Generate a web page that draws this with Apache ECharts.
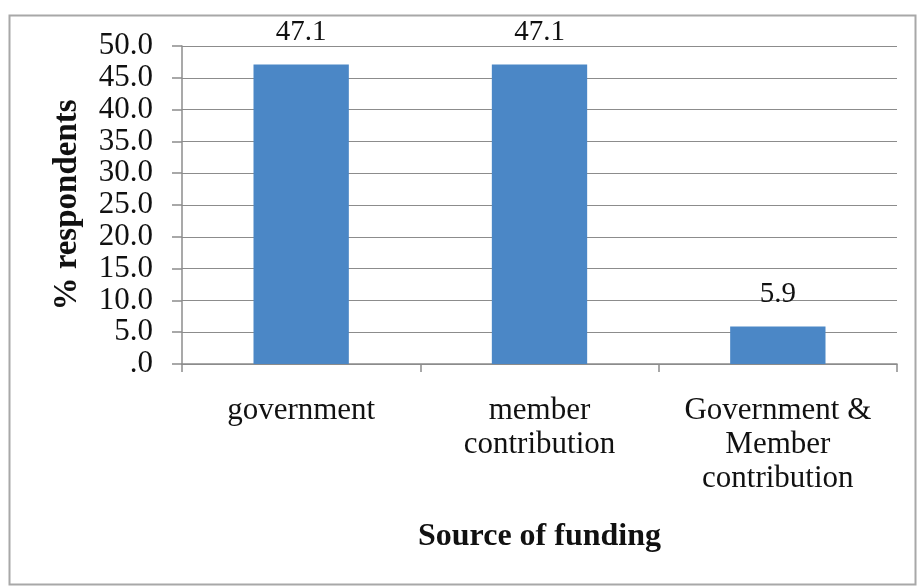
<!DOCTYPE html>
<html>
<head>
<meta charset="utf-8">
<script src="https://cdn.jsdelivr.net/npm/echarts@6/dist/echarts.min.js"></script>
<style>
  html, body { margin: 0; padding: 0; background: #ffffff; }
  #chart { width: 922px; height: 586px; }
</style>
</head>
<body>
<div id="chart"></div>
<script>
// Source of funding survey results
const categories = ['government', 'member\ncontribution', 'Government &\nMember\ncontribution'];
const percentValues = [47.1, 47.1, 5.9];
const yTickLabels = ['.0', '5.0', '10.0', '15.0', '20.0', '25.0', '30.0', '35.0', '40.0', '45.0', '50.0'];

const FONT = '"Liberation Serif", "Times New Roman", serif';
const chart = echarts.init(document.getElementById('chart'));

chart.setOption({
  backgroundColor: '#ffffff',
  animation: false,
  graphic: [{
    type: 'rect',
    left: 7, top: 13,
    shape: { width: 906, height: 569 },
    style: { fill: 'none', stroke: '#a8a8a8', lineWidth: 2 },
    silent: true
  }],
  grid: { left: 182, right: 25, top: 46, bottom: 222 },
  xAxis: {
    type: 'category',
    data: categories,
    name: 'Source of funding',
    nameLocation: 'middle',
    nameGap: 157,
    nameTextStyle: { fontFamily: FONT, fontSize: 32, fontWeight: 'bold', color: '#111' },
    axisLine: { show: true, lineStyle: { color: '#8c8c8c', width: 1.5 } },
    axisTick: { show: true, alignWithLabel: false, length: 8, lineStyle: { color: '#8c8c8c', width: 1.5 } },
    axisLabel: {
      fontFamily: FONT, fontSize: 31, color: '#111',
      lineHeight: 34, margin: 30, interval: 0
    }
  },
  yAxis: {
    type: 'value',
    min: 0, max: 50, interval: 5,
    name: '% respondents',
    nameLocation: 'middle',
    nameGap: 98,
    nameRotate: 90,
    nameTextStyle: { fontFamily: FONT, fontSize: 33, fontWeight: 'bold', color: '#111' },
    axisLine: { show: true, lineStyle: { color: '#8c8c8c', width: 1.5 } },
    axisTick: { show: true, inside: false, length: 10, lineStyle: { color: '#8c8c8c', width: 1.5 } },
    splitLine: { show: true, lineStyle: { color: '#8c8c8c', width: 1.2 } },
    axisLabel: {
      fontFamily: FONT, fontSize: 31, color: '#111', margin: 29,
      formatter: function (v) { return yTickLabels[Math.round(v / 5)]; }
    }
  },
  series: [{
    type: 'bar',
    data: percentValues,
    barWidth: '40%',
    itemStyle: { color: '#4b87c6' },
    label: {
      show: true,
      position: 'top',
      distance: 18,
      fontFamily: FONT, fontSize: 29, color: '#111',
      formatter: function (p) { return p.value.toFixed(1); }
    }
  }]
});
</script>
</body>
</html>
